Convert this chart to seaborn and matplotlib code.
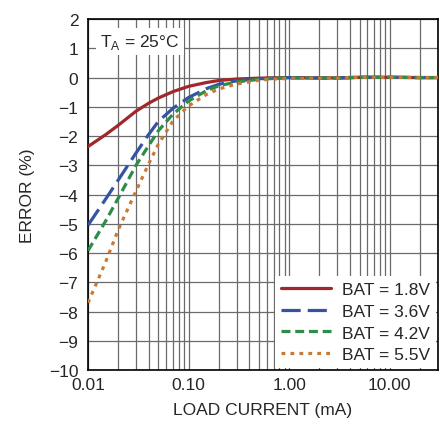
import numpy as np
import pandas as pd
import matplotlib
matplotlib.use('Agg')
import matplotlib.pyplot as plt
import matplotlib.ticker as mticker
import seaborn as sns

# 负载电流 (mA)
current = [0.01, 0.015, 0.02, 0.03, 0.04, 0.05, 0.07, 0.1, 0.15, 0.2, 0.3, 0.5, 0.7,
           1, 2, 3, 5, 10, 20, 30]
# 各电池电压下的误差 (%)
err_18 = [-2.36, -1.95, -1.63, -1.15, -0.88, -0.70, -0.48, -0.30, -0.17, -0.10, -0.05, -0.02, -0.01,
          0.0, -0.01, -0.01, 0.01, 0.01, 0.0, 0.0]
err_36 = [-5.05, -4.15, -3.50, -2.58, -1.95, -1.50, -1.05, -0.68, -0.38, -0.23, -0.11, -0.04, -0.02,
          0.0, -0.02, -0.02, 0.01, 0.01, 0.0, 0.0]
err_42 = [-5.92, -4.90, -4.12, -3.00, -2.33, -1.82, -1.25, -0.80, -0.45, -0.28, -0.15, -0.06, -0.03,
          -0.01, -0.02, -0.02, 0.01, 0.01, 0.0, 0.0]
err_55 = [-7.70, -6.30, -5.20, -3.88, -2.96, -2.28, -1.48, -0.97, -0.58, -0.39, -0.22, -0.09, -0.05,
          -0.03, -0.02, -0.02, 0.01, 0.01, 0.0, 0.0]
labels = ['BAT = 1.8V', 'BAT = 3.6V', 'BAT = 4.2V', 'BAT = 5.5V']
xticks = [0.01, 0.1, 1, 10]
xtick_labels = ['0.01', '0.10', '1.00', '10.00']

sns.set_style('white')
plt.rcParams['font.family'] = ['Liberation Sans', 'DejaVu Sans']
plt.rcParams['mathtext.fontset'] = 'custom'
plt.rcParams['mathtext.rm'] = 'Liberation Sans'

rows = []
for lab, ys in zip(labels, [err_18, err_36, err_42, err_55]):
    for x, y in zip(current, ys):
        rows.append({'current': x, 'error': y, 'bat': lab})
df = pd.DataFrame(rows)

palette = {labels[0]: '#a0282a', labels[1]: '#3553a5', labels[2]: '#2f8c48', labels[3]: '#c77a37'}
dashes = {labels[0]: '', labels[1]: (6, 2.2), labels[2]: (2.8, 1.5), labels[3]: (1.2, 1.6)}

fig = plt.figure(figsize=(4.4, 4.27), dpi=100)
ax = fig.add_axes([0.2, 0.131, 0.795, 0.822])

sns.lineplot(data=df, x='current', y='error', hue='bat', style='bat', palette=palette,
             dashes=dashes, linewidth=2.3, ax=ax, zorder=3)

ax.set_xscale('log')
ax.set_xlim(0.01, 30)
ax.set_ylim(-10, 2)
ax.set_yticks(range(-10, 3))
ax.set_xticks(xticks)
ax.set_xticklabels(xtick_labels)
ax.xaxis.set_minor_locator(mticker.LogLocator(base=10, subs=np.arange(2, 10)))
ax.xaxis.set_minor_formatter(mticker.NullFormatter())

ax.grid(True, which='both', axis='x', color='#6a6a6a', linewidth=0.9)
ax.grid(True, which='major', axis='y', color='#6a6a6a', linewidth=0.9)
ax.tick_params(which='both', length=0, labelsize=12.5)
ax.tick_params(axis='y', pad=7)
ax.tick_params(axis='x', pad=5)
for s in ax.spines.values():
    s.set_color('black')
    s.set_linewidth(1.2)

ax.set_xlabel('LOAD CURRENT (mA)', fontsize=12.5, labelpad=7)
ax.set_ylabel('ERROR (%)', fontsize=12.5, labelpad=10)

ax.text(0.035, 0.937, r'T$_\mathregular{A}$ = 25°C', transform=ax.transAxes, fontsize=12.5,
        va='center', ha='left', zorder=5,
        bbox=dict(facecolor='white', edgecolor='none', pad=3))

leg = ax.legend(loc='lower right', fontsize=12.5, handlelength=2.9, frameon=True, fancybox=False,
                borderaxespad=0.1, borderpad=0.35, labelspacing=0.38, handletextpad=0.6)
leg.get_frame().set_edgecolor('none')
leg.get_frame().set_facecolor('white')
leg.get_frame().set_alpha(1)
leg.set_title(None)

fig.savefig('out.png', dpi=100)
